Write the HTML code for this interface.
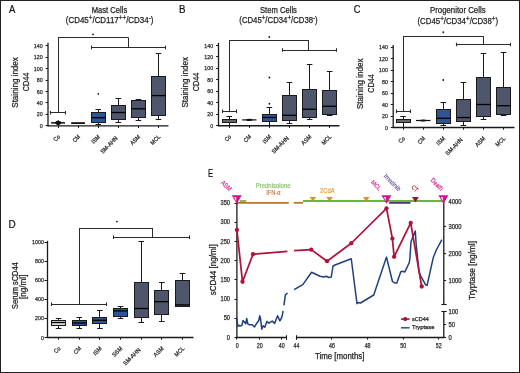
<!DOCTYPE html>
<html><head><meta charset="utf-8"><style>
html,body{margin:0;padding:0;background:#fff;}
svg{display:block;will-change:transform;}
text{font-family:"Liberation Sans",sans-serif;}
</style></head><body>
<svg width="520" height="373" viewBox="0 0 520 373">
<rect x="0" y="0" width="520" height="373" fill="#fff"/>
<text x="9" y="12.9" font-size="10.3" text-anchor="start" fill="#111" stroke="#111" textLength="6.33" lengthAdjust="spacingAndGlyphs" stroke-width="0.2">A</text>
<text x="91.7" y="13.2" font-size="9" text-anchor="start" fill="#222" stroke="#222" stroke-width="0.25" textLength="35.5" lengthAdjust="spacingAndGlyphs">Mast Cells</text>
<text x="65.8" y="22.8" font-size="9.0" fill="#222" stroke="#222" stroke-width="0.25" textLength="87.6" lengthAdjust="spacingAndGlyphs">(CD45<tspan font-size="7.2" dy="-3.1">+</tspan><tspan dy="3.1">/CD117</tspan><tspan font-size="7.2" dy="-3.1">++</tspan><tspan dy="3.1">/CD34</tspan><tspan font-size="7.2" dy="-3.1">-</tspan><tspan dy="3.1">)</tspan></text>
<line x1="48" y1="42.8" x2="48" y2="126.3" stroke="#1a1a1a" stroke-width="1.3"/>
<line x1="47.4" y1="125.8" x2="168.5" y2="125.8" stroke="#1a1a1a" stroke-width="1.3"/>
<line x1="45.6" y1="125.5" x2="48" y2="125.5" stroke="#1a1a1a" stroke-width="1"/>
<text x="42.7" y="127.85" font-size="5.8" text-anchor="end" fill="#2a2a2a" stroke="#2a2a2a" stroke-width="0.25" textLength="2.95" lengthAdjust="spacingAndGlyphs">0</text>
<line x1="45.6" y1="114.5" x2="48" y2="114.5" stroke="#1a1a1a" stroke-width="1"/>
<text x="42.7" y="116.44" font-size="5.8" text-anchor="end" fill="#2a2a2a" stroke="#2a2a2a" stroke-width="0.25" textLength="5.9" lengthAdjust="spacingAndGlyphs">20</text>
<line x1="45.6" y1="102.5" x2="48" y2="102.5" stroke="#1a1a1a" stroke-width="1"/>
<text x="42.7" y="105.02" font-size="5.8" text-anchor="end" fill="#2a2a2a" stroke="#2a2a2a" stroke-width="0.25" textLength="5.9" lengthAdjust="spacingAndGlyphs">40</text>
<line x1="45.6" y1="91.5" x2="48" y2="91.5" stroke="#1a1a1a" stroke-width="1"/>
<text x="42.7" y="93.61" font-size="5.8" text-anchor="end" fill="#2a2a2a" stroke="#2a2a2a" stroke-width="0.25" textLength="5.9" lengthAdjust="spacingAndGlyphs">60</text>
<line x1="45.6" y1="80.5" x2="48" y2="80.5" stroke="#1a1a1a" stroke-width="1"/>
<text x="42.7" y="82.19" font-size="5.8" text-anchor="end" fill="#2a2a2a" stroke="#2a2a2a" stroke-width="0.25" textLength="5.9" lengthAdjust="spacingAndGlyphs">80</text>
<line x1="45.6" y1="68.5" x2="48" y2="68.5" stroke="#1a1a1a" stroke-width="1"/>
<text x="42.7" y="70.78" font-size="5.8" text-anchor="end" fill="#2a2a2a" stroke="#2a2a2a" stroke-width="0.25" textLength="8.85" lengthAdjust="spacingAndGlyphs">100</text>
<line x1="45.6" y1="57.5" x2="48" y2="57.5" stroke="#1a1a1a" stroke-width="1"/>
<text x="42.7" y="59.36" font-size="5.8" text-anchor="end" fill="#2a2a2a" stroke="#2a2a2a" stroke-width="0.25" textLength="8.85" lengthAdjust="spacingAndGlyphs">120</text>
<line x1="45.6" y1="45.5" x2="48" y2="45.5" stroke="#1a1a1a" stroke-width="1"/>
<text x="42.7" y="47.95" font-size="5.8" text-anchor="end" fill="#2a2a2a" stroke="#2a2a2a" stroke-width="0.25" textLength="8.85" lengthAdjust="spacingAndGlyphs">140</text>
<line x1="58.5" y1="125.8" x2="58.5" y2="128" stroke="#1a1a1a" stroke-width="1"/>
<line x1="78.5" y1="125.8" x2="78.5" y2="128" stroke="#1a1a1a" stroke-width="1"/>
<line x1="98.5" y1="125.8" x2="98.5" y2="128" stroke="#1a1a1a" stroke-width="1"/>
<line x1="118.5" y1="125.8" x2="118.5" y2="128" stroke="#1a1a1a" stroke-width="1"/>
<line x1="138.5" y1="125.8" x2="138.5" y2="128" stroke="#1a1a1a" stroke-width="1"/>
<line x1="158.5" y1="125.8" x2="158.5" y2="128" stroke="#1a1a1a" stroke-width="1"/>
<line x1="98.5" y1="109.2" x2="98.5" y2="112.9" stroke="#1a1a1a" stroke-width="1"/>
<line x1="95.46" y1="109.5" x2="101.06" y2="109.5" stroke="#1a1a1a" stroke-width="1"/>
<line x1="98.5" y1="122.25" x2="98.5" y2="124.4" stroke="#1a1a1a" stroke-width="1"/>
<line x1="95.46" y1="124.5" x2="101.06" y2="124.5" stroke="#1a1a1a" stroke-width="1"/>
<rect x="91.5" y="112.5" width="14" height="10" fill="#2f5496" stroke="#1a1a1a" stroke-width="1"/>
<line x1="91.26" y1="117.7" x2="105.26" y2="117.7" stroke="#000" stroke-width="1.3"/>
<circle cx="98.26" cy="93.8" r="0.9" fill="#111"/>
<line x1="118.5" y1="98.6" x2="118.5" y2="105.4" stroke="#1a1a1a" stroke-width="1"/>
<line x1="115.54" y1="98.5" x2="121.14" y2="98.5" stroke="#1a1a1a" stroke-width="1"/>
<line x1="118.5" y1="119.5" x2="118.5" y2="122" stroke="#1a1a1a" stroke-width="1"/>
<line x1="115.54" y1="122.5" x2="121.14" y2="122.5" stroke="#1a1a1a" stroke-width="1"/>
<rect x="111.5" y="105.5" width="14" height="14" fill="#4f566b" stroke="#1a1a1a" stroke-width="1"/>
<line x1="111.34" y1="112.5" x2="125.34" y2="112.5" stroke="#000" stroke-width="1.3"/>
<line x1="138.5" y1="99.8" x2="138.5" y2="100.2" stroke="#1a1a1a" stroke-width="1"/>
<line x1="135.62" y1="99.5" x2="141.22" y2="99.5" stroke="#1a1a1a" stroke-width="1"/>
<line x1="138.5" y1="117.5" x2="138.5" y2="120.2" stroke="#1a1a1a" stroke-width="1"/>
<line x1="135.62" y1="120.5" x2="141.22" y2="120.5" stroke="#1a1a1a" stroke-width="1"/>
<rect x="131.5" y="100.5" width="14" height="17" fill="#4f566b" stroke="#1a1a1a" stroke-width="1"/>
<line x1="131.42" y1="108.8" x2="145.42" y2="108.8" stroke="#000" stroke-width="1.3"/>
<line x1="158.5" y1="53.7" x2="158.5" y2="76.2" stroke="#1a1a1a" stroke-width="1"/>
<line x1="155.7" y1="53.5" x2="161.3" y2="53.5" stroke="#1a1a1a" stroke-width="1"/>
<line x1="158.5" y1="115.7" x2="158.5" y2="119.8" stroke="#1a1a1a" stroke-width="1"/>
<line x1="155.7" y1="119.5" x2="161.3" y2="119.5" stroke="#1a1a1a" stroke-width="1"/>
<rect x="151.5" y="76.5" width="14" height="39" fill="#4f566b" stroke="#1a1a1a" stroke-width="1"/>
<line x1="151.5" y1="95.6" x2="165.5" y2="95.6" stroke="#000" stroke-width="1.3"/>
<text x="60.4" y="137.2" font-size="6" text-anchor="end" fill="#2a2a2a" stroke="#2a2a2a" stroke-width="0.25" textLength="6.52" lengthAdjust="spacingAndGlyphs" transform="rotate(-45 60.4 137.2)">Co</text>
<text x="80.48" y="137.2" font-size="6" text-anchor="end" fill="#2a2a2a" stroke="#2a2a2a" stroke-width="0.25" textLength="7.84" lengthAdjust="spacingAndGlyphs" transform="rotate(-45 80.48 137.2)">CM</text>
<text x="100.56" y="137.2" font-size="6" text-anchor="end" fill="#2a2a2a" stroke="#2a2a2a" stroke-width="0.25" textLength="9.6" lengthAdjust="spacingAndGlyphs" transform="rotate(-45 100.56 137.2)">ISM</text>
<text x="118.14" y="138.6" font-size="6" text-anchor="end" fill="#2a2a2a" stroke="#2a2a2a" stroke-width="0.25" textLength="21.77" lengthAdjust="spacingAndGlyphs" transform="rotate(-45 118.14 138.6)">SM-AHN</text>
<text x="140.72" y="137.2" font-size="6" text-anchor="end" fill="#2a2a2a" stroke="#2a2a2a" stroke-width="0.25" textLength="11.7" lengthAdjust="spacingAndGlyphs" transform="rotate(-45 140.72 137.2)">ASM</text>
<text x="160.8" y="137.2" font-size="6" text-anchor="end" fill="#2a2a2a" stroke="#2a2a2a" stroke-width="0.25" textLength="11.4" lengthAdjust="spacingAndGlyphs" transform="rotate(-45 160.8 137.2)">MCL</text>
<text x="18.1" y="82.45" font-size="8.9" text-anchor="middle" fill="#222" stroke="#222" stroke-width="0.25" textLength="50.6" lengthAdjust="spacingAndGlyphs" transform="rotate(-90 18.1 82.45)">Staining index</text>
<text x="29.4" y="82" font-size="8.9" text-anchor="middle" fill="#222" stroke="#222" stroke-width="0.25" textLength="18.6" lengthAdjust="spacingAndGlyphs" transform="rotate(-90 29.4 82)">CD44</text>
<rect x="51.1" y="122.1" width="13.9" height="1.5" fill="#111"/>
<ellipse cx="58.2" cy="122.8" rx="3.0" ry="2.1" fill="#111"/>
<line x1="58.2" y1="120.2" x2="58.2" y2="125.5" stroke="#111" stroke-width="1.2"/>
<rect x="71.2" y="122.2" width="13.7" height="1.8" fill="#111"/>
<line x1="58.1" y1="37.5" x2="128.4" y2="37.5" stroke="#2b2b2b" stroke-width="1"/>
<line x1="58.5" y1="37.5" x2="58.5" y2="112.75" stroke="#2b2b2b" stroke-width="1"/>
<line x1="128.5" y1="37.5" x2="128.5" y2="47.1" stroke="#2b2b2b" stroke-width="1"/>
<line x1="50.8" y1="112.5" x2="65.2" y2="112.5" stroke="#2b2b2b" stroke-width="1"/>
<line x1="50.5" y1="110.95" x2="50.5" y2="114.55" stroke="#2b2b2b" stroke-width="1.1"/>
<line x1="65.5" y1="110.95" x2="65.5" y2="114.55" stroke="#2b2b2b" stroke-width="1.1"/>
<line x1="91.5" y1="47.5" x2="165.8" y2="47.5" stroke="#2b2b2b" stroke-width="1"/>
<line x1="91.5" y1="45.7" x2="91.5" y2="49.3" stroke="#2b2b2b" stroke-width="1.1"/>
<line x1="165.5" y1="45.7" x2="165.5" y2="49.3" stroke="#2b2b2b" stroke-width="1.1"/>
<circle cx="93" cy="34.4" r="0.95" fill="#222"/>
<text x="179.1" y="12.8" font-size="10.3" text-anchor="start" fill="#111" stroke="#111" textLength="6.5" lengthAdjust="spacingAndGlyphs" stroke-width="0.2">B</text>
<text x="260" y="13.1" font-size="9" text-anchor="start" fill="#222" stroke="#222" stroke-width="0.25" textLength="36.9" lengthAdjust="spacingAndGlyphs">Stem Cells</text>
<text x="239.3" y="23.0" font-size="9.0" fill="#222" stroke="#222" stroke-width="0.25" textLength="78.4" lengthAdjust="spacingAndGlyphs">(CD45<tspan font-size="7.2" dy="-3.1">+</tspan><tspan dy="3.1">/CD34</tspan><tspan font-size="7.2" dy="-3.1">+</tspan><tspan dy="3.1">/CD38</tspan><tspan font-size="7.2" dy="-3.1">-</tspan><tspan dy="3.1">)</tspan></text>
<line x1="218.5" y1="42.8" x2="218.5" y2="126.25" stroke="#1a1a1a" stroke-width="1.3"/>
<line x1="217.9" y1="125.75" x2="339.5" y2="125.75" stroke="#1a1a1a" stroke-width="1.3"/>
<line x1="216.1" y1="125.5" x2="218.5" y2="125.5" stroke="#1a1a1a" stroke-width="1"/>
<text x="213.2" y="127.8" font-size="5.8" text-anchor="end" fill="#2a2a2a" stroke="#2a2a2a" stroke-width="0.25" textLength="2.95" lengthAdjust="spacingAndGlyphs">0</text>
<line x1="216.1" y1="114.5" x2="218.5" y2="114.5" stroke="#1a1a1a" stroke-width="1"/>
<text x="213.2" y="116.34" font-size="5.8" text-anchor="end" fill="#2a2a2a" stroke="#2a2a2a" stroke-width="0.25" textLength="5.9" lengthAdjust="spacingAndGlyphs">20</text>
<line x1="216.1" y1="102.5" x2="218.5" y2="102.5" stroke="#1a1a1a" stroke-width="1"/>
<text x="213.2" y="104.87" font-size="5.8" text-anchor="end" fill="#2a2a2a" stroke="#2a2a2a" stroke-width="0.25" textLength="5.9" lengthAdjust="spacingAndGlyphs">40</text>
<line x1="216.1" y1="91.5" x2="218.5" y2="91.5" stroke="#1a1a1a" stroke-width="1"/>
<text x="213.2" y="93.41" font-size="5.8" text-anchor="end" fill="#2a2a2a" stroke="#2a2a2a" stroke-width="0.25" textLength="5.9" lengthAdjust="spacingAndGlyphs">60</text>
<line x1="216.1" y1="79.5" x2="218.5" y2="79.5" stroke="#1a1a1a" stroke-width="1"/>
<text x="213.2" y="81.94" font-size="5.8" text-anchor="end" fill="#2a2a2a" stroke="#2a2a2a" stroke-width="0.25" textLength="5.9" lengthAdjust="spacingAndGlyphs">80</text>
<line x1="216.1" y1="68.5" x2="218.5" y2="68.5" stroke="#1a1a1a" stroke-width="1"/>
<text x="213.2" y="70.48" font-size="5.8" text-anchor="end" fill="#2a2a2a" stroke="#2a2a2a" stroke-width="0.25" textLength="8.85" lengthAdjust="spacingAndGlyphs">100</text>
<line x1="216.1" y1="56.5" x2="218.5" y2="56.5" stroke="#1a1a1a" stroke-width="1"/>
<text x="213.2" y="59.01" font-size="5.8" text-anchor="end" fill="#2a2a2a" stroke="#2a2a2a" stroke-width="0.25" textLength="8.85" lengthAdjust="spacingAndGlyphs">120</text>
<line x1="216.1" y1="45.5" x2="218.5" y2="45.5" stroke="#1a1a1a" stroke-width="1"/>
<text x="213.2" y="47.55" font-size="5.8" text-anchor="end" fill="#2a2a2a" stroke="#2a2a2a" stroke-width="0.25" textLength="8.85" lengthAdjust="spacingAndGlyphs">140</text>
<line x1="229.5" y1="125.75" x2="229.5" y2="127.95" stroke="#1a1a1a" stroke-width="1"/>
<line x1="249.5" y1="125.75" x2="249.5" y2="127.95" stroke="#1a1a1a" stroke-width="1"/>
<line x1="269.5" y1="125.75" x2="269.5" y2="127.95" stroke="#1a1a1a" stroke-width="1"/>
<line x1="289.5" y1="125.75" x2="289.5" y2="127.95" stroke="#1a1a1a" stroke-width="1"/>
<line x1="309.5" y1="125.75" x2="309.5" y2="127.95" stroke="#1a1a1a" stroke-width="1"/>
<line x1="329.5" y1="125.75" x2="329.5" y2="127.95" stroke="#1a1a1a" stroke-width="1"/>
<line x1="229.5" y1="116.6" x2="229.5" y2="119.1" stroke="#1a1a1a" stroke-width="1"/>
<line x1="226.4" y1="116.5" x2="232" y2="116.5" stroke="#1a1a1a" stroke-width="1"/>
<line x1="229.5" y1="122.5" x2="229.5" y2="125.3" stroke="#1a1a1a" stroke-width="1"/>
<line x1="226.4" y1="125.5" x2="232" y2="125.5" stroke="#1a1a1a" stroke-width="1"/>
<rect x="222.5" y="119.5" width="14" height="3" fill="#666666" stroke="#1a1a1a" stroke-width="1"/>
<line x1="269.5" y1="107" x2="269.5" y2="114.25" stroke="#1a1a1a" stroke-width="1"/>
<line x1="266.6" y1="107.5" x2="272.2" y2="107.5" stroke="#1a1a1a" stroke-width="1"/>
<line x1="269.5" y1="121.25" x2="269.5" y2="125" stroke="#1a1a1a" stroke-width="1"/>
<line x1="266.6" y1="125.5" x2="272.2" y2="125.5" stroke="#1a1a1a" stroke-width="1"/>
<rect x="262.5" y="114.5" width="14" height="7" fill="#2f5496" stroke="#1a1a1a" stroke-width="1"/>
<line x1="262.4" y1="117.5" x2="276.4" y2="117.5" stroke="#000" stroke-width="1.3"/>
<circle cx="269.4" cy="77.5" r="0.9" fill="#111"/>
<circle cx="269.4" cy="103.75" r="0.9" fill="#111"/>
<line x1="289.5" y1="82.5" x2="289.5" y2="95" stroke="#1a1a1a" stroke-width="1"/>
<line x1="286.7" y1="82.5" x2="292.3" y2="82.5" stroke="#1a1a1a" stroke-width="1"/>
<line x1="289.5" y1="120.75" x2="289.5" y2="123.75" stroke="#1a1a1a" stroke-width="1"/>
<line x1="286.7" y1="123.5" x2="292.3" y2="123.5" stroke="#1a1a1a" stroke-width="1"/>
<rect x="282.5" y="95.5" width="14" height="25" fill="#4f566b" stroke="#1a1a1a" stroke-width="1"/>
<line x1="282.5" y1="115.3" x2="296.5" y2="115.3" stroke="#000" stroke-width="1.3"/>
<line x1="309.5" y1="64.25" x2="309.5" y2="89.5" stroke="#1a1a1a" stroke-width="1"/>
<line x1="306.8" y1="64.5" x2="312.4" y2="64.5" stroke="#1a1a1a" stroke-width="1"/>
<line x1="309.5" y1="117.5" x2="309.5" y2="119" stroke="#1a1a1a" stroke-width="1"/>
<line x1="306.8" y1="119.5" x2="312.4" y2="119.5" stroke="#1a1a1a" stroke-width="1"/>
<rect x="302.5" y="89.5" width="14" height="28" fill="#4f566b" stroke="#1a1a1a" stroke-width="1"/>
<line x1="302.6" y1="109.25" x2="316.6" y2="109.25" stroke="#000" stroke-width="1.3"/>
<line x1="329.5" y1="71.25" x2="329.5" y2="90" stroke="#1a1a1a" stroke-width="1"/>
<line x1="326.9" y1="71.5" x2="332.5" y2="71.5" stroke="#1a1a1a" stroke-width="1"/>
<line x1="329.5" y1="114.5" x2="329.5" y2="115" stroke="#1a1a1a" stroke-width="1"/>
<line x1="326.9" y1="115.5" x2="332.5" y2="115.5" stroke="#1a1a1a" stroke-width="1"/>
<rect x="322.5" y="90.5" width="14" height="24" fill="#4f566b" stroke="#1a1a1a" stroke-width="1"/>
<line x1="322.7" y1="106.25" x2="336.7" y2="106.25" stroke="#000" stroke-width="1.3"/>
<text x="231.5" y="137.15" font-size="6" text-anchor="end" fill="#2a2a2a" stroke="#2a2a2a" stroke-width="0.25" textLength="6.52" lengthAdjust="spacingAndGlyphs" transform="rotate(-45 231.5 137.15)">Co</text>
<text x="251.6" y="137.15" font-size="6" text-anchor="end" fill="#2a2a2a" stroke="#2a2a2a" stroke-width="0.25" textLength="7.84" lengthAdjust="spacingAndGlyphs" transform="rotate(-45 251.6 137.15)">CM</text>
<text x="271.7" y="137.15" font-size="6" text-anchor="end" fill="#2a2a2a" stroke="#2a2a2a" stroke-width="0.25" textLength="9.6" lengthAdjust="spacingAndGlyphs" transform="rotate(-45 271.7 137.15)">ISM</text>
<text x="289.3" y="138.55" font-size="6" text-anchor="end" fill="#2a2a2a" stroke="#2a2a2a" stroke-width="0.25" textLength="21.77" lengthAdjust="spacingAndGlyphs" transform="rotate(-45 289.3 138.55)">SM-AHN</text>
<text x="311.9" y="137.15" font-size="6" text-anchor="end" fill="#2a2a2a" stroke="#2a2a2a" stroke-width="0.25" textLength="11.7" lengthAdjust="spacingAndGlyphs" transform="rotate(-45 311.9 137.15)">ASM</text>
<text x="332" y="137.15" font-size="6" text-anchor="end" fill="#2a2a2a" stroke="#2a2a2a" stroke-width="0.25" textLength="11.4" lengthAdjust="spacingAndGlyphs" transform="rotate(-45 332 137.15)">MCL</text>
<text x="188.1" y="82.3" font-size="8.9" text-anchor="middle" fill="#222" stroke="#222" stroke-width="0.25" textLength="50.6" lengthAdjust="spacingAndGlyphs" transform="rotate(-90 188.1 82.3)">Staining index</text>
<text x="199.4" y="82" font-size="8.9" text-anchor="middle" fill="#222" stroke="#222" stroke-width="0.25" textLength="18.6" lengthAdjust="spacingAndGlyphs" transform="rotate(-90 199.4 82)">CD44</text>
<rect x="242.2" y="119.3" width="14.3" height="1.2" fill="#111"/>
<ellipse cx="249.4" cy="119.9" rx="3.2" ry="1.1" fill="#111"/>
<line x1="229.2" y1="40.5" x2="308.8" y2="40.5" stroke="#2b2b2b" stroke-width="1"/>
<line x1="229.5" y1="40.1" x2="229.5" y2="111.25" stroke="#2b2b2b" stroke-width="1"/>
<line x1="308.5" y1="40.1" x2="308.5" y2="50" stroke="#2b2b2b" stroke-width="1"/>
<line x1="222.2" y1="111.5" x2="236.3" y2="111.5" stroke="#2b2b2b" stroke-width="1"/>
<line x1="222.5" y1="109.45" x2="222.5" y2="113.05" stroke="#2b2b2b" stroke-width="1.1"/>
<line x1="236.5" y1="109.45" x2="236.5" y2="113.05" stroke="#2b2b2b" stroke-width="1.1"/>
<line x1="282" y1="50.5" x2="336.3" y2="50.5" stroke="#2b2b2b" stroke-width="1"/>
<line x1="282.5" y1="48.2" x2="282.5" y2="51.8" stroke="#2b2b2b" stroke-width="1.1"/>
<line x1="336.5" y1="48.2" x2="336.5" y2="51.8" stroke="#2b2b2b" stroke-width="1.1"/>
<circle cx="269.3" cy="37.0" r="0.95" fill="#222"/>
<text x="353.7" y="12.8" font-size="10.3" text-anchor="start" fill="#111" stroke="#111" textLength="6.71" lengthAdjust="spacingAndGlyphs" stroke-width="0.2">C</text>
<text x="430" y="13.3" font-size="9" text-anchor="start" fill="#222" stroke="#222" stroke-width="0.25" textLength="55.6" lengthAdjust="spacingAndGlyphs">Progenitor Cells</text>
<text x="417.5" y="23.6" font-size="9.0" fill="#222" stroke="#222" stroke-width="0.25" textLength="80.6" lengthAdjust="spacingAndGlyphs">(CD45<tspan font-size="7.2" dy="-3.1">+</tspan><tspan dy="3.1">/CD34</tspan><tspan font-size="7.2" dy="-3.1">+</tspan><tspan dy="3.1">/CD38</tspan><tspan font-size="7.2" dy="-3.1">+</tspan><tspan dy="3.1">)</tspan></text>
<line x1="393.2" y1="45" x2="393.2" y2="128" stroke="#1a1a1a" stroke-width="1.3"/>
<line x1="392.6" y1="127.5" x2="514.5" y2="127.5" stroke="#1a1a1a" stroke-width="1.3"/>
<line x1="390.8" y1="127.5" x2="393.2" y2="127.5" stroke="#1a1a1a" stroke-width="1"/>
<text x="387.9" y="129.55" font-size="5.8" text-anchor="end" fill="#2a2a2a" stroke="#2a2a2a" stroke-width="0.25" textLength="2.95" lengthAdjust="spacingAndGlyphs">0</text>
<line x1="390.8" y1="116.5" x2="393.2" y2="116.5" stroke="#1a1a1a" stroke-width="1"/>
<text x="387.9" y="118.11" font-size="5.8" text-anchor="end" fill="#2a2a2a" stroke="#2a2a2a" stroke-width="0.25" textLength="5.9" lengthAdjust="spacingAndGlyphs">20</text>
<line x1="390.8" y1="104.5" x2="393.2" y2="104.5" stroke="#1a1a1a" stroke-width="1"/>
<text x="387.9" y="106.66" font-size="5.8" text-anchor="end" fill="#2a2a2a" stroke="#2a2a2a" stroke-width="0.25" textLength="5.9" lengthAdjust="spacingAndGlyphs">40</text>
<line x1="390.8" y1="93.5" x2="393.2" y2="93.5" stroke="#1a1a1a" stroke-width="1"/>
<text x="387.9" y="95.22" font-size="5.8" text-anchor="end" fill="#2a2a2a" stroke="#2a2a2a" stroke-width="0.25" textLength="5.9" lengthAdjust="spacingAndGlyphs">60</text>
<line x1="390.8" y1="81.5" x2="393.2" y2="81.5" stroke="#1a1a1a" stroke-width="1"/>
<text x="387.9" y="83.78" font-size="5.8" text-anchor="end" fill="#2a2a2a" stroke="#2a2a2a" stroke-width="0.25" textLength="5.9" lengthAdjust="spacingAndGlyphs">80</text>
<line x1="390.8" y1="70.5" x2="393.2" y2="70.5" stroke="#1a1a1a" stroke-width="1"/>
<text x="387.9" y="72.34" font-size="5.8" text-anchor="end" fill="#2a2a2a" stroke="#2a2a2a" stroke-width="0.25" textLength="8.85" lengthAdjust="spacingAndGlyphs">100</text>
<line x1="390.8" y1="58.5" x2="393.2" y2="58.5" stroke="#1a1a1a" stroke-width="1"/>
<text x="387.9" y="60.89" font-size="5.8" text-anchor="end" fill="#2a2a2a" stroke="#2a2a2a" stroke-width="0.25" textLength="8.85" lengthAdjust="spacingAndGlyphs">120</text>
<line x1="390.8" y1="47.5" x2="393.2" y2="47.5" stroke="#1a1a1a" stroke-width="1"/>
<text x="387.9" y="49.45" font-size="5.8" text-anchor="end" fill="#2a2a2a" stroke="#2a2a2a" stroke-width="0.25" textLength="8.85" lengthAdjust="spacingAndGlyphs">140</text>
<line x1="403.5" y1="127.5" x2="403.5" y2="129.7" stroke="#1a1a1a" stroke-width="1"/>
<line x1="423.5" y1="127.5" x2="423.5" y2="129.7" stroke="#1a1a1a" stroke-width="1"/>
<line x1="443.5" y1="127.5" x2="443.5" y2="129.7" stroke="#1a1a1a" stroke-width="1"/>
<line x1="463.5" y1="127.5" x2="463.5" y2="129.7" stroke="#1a1a1a" stroke-width="1"/>
<line x1="483.5" y1="127.5" x2="483.5" y2="129.7" stroke="#1a1a1a" stroke-width="1"/>
<line x1="503.5" y1="127.5" x2="503.5" y2="129.7" stroke="#1a1a1a" stroke-width="1"/>
<line x1="403.5" y1="116.3" x2="403.5" y2="119.1" stroke="#1a1a1a" stroke-width="1"/>
<line x1="400.3" y1="116.5" x2="405.9" y2="116.5" stroke="#1a1a1a" stroke-width="1"/>
<line x1="403.5" y1="122.8" x2="403.5" y2="127" stroke="#1a1a1a" stroke-width="1"/>
<line x1="400.3" y1="127.5" x2="405.9" y2="127.5" stroke="#1a1a1a" stroke-width="1"/>
<rect x="396.5" y="119.5" width="14" height="3" fill="#666666" stroke="#1a1a1a" stroke-width="1"/>
<line x1="443.5" y1="102" x2="443.5" y2="109.5" stroke="#1a1a1a" stroke-width="1"/>
<line x1="440.5" y1="102.5" x2="446.1" y2="102.5" stroke="#1a1a1a" stroke-width="1"/>
<line x1="443.5" y1="123" x2="443.5" y2="125.5" stroke="#1a1a1a" stroke-width="1"/>
<line x1="440.5" y1="125.5" x2="446.1" y2="125.5" stroke="#1a1a1a" stroke-width="1"/>
<rect x="436.5" y="109.5" width="14" height="14" fill="#2f5496" stroke="#1a1a1a" stroke-width="1"/>
<line x1="436.3" y1="118.25" x2="450.3" y2="118.25" stroke="#000" stroke-width="1.3"/>
<circle cx="443.3" cy="80" r="0.9" fill="#111"/>
<line x1="463.5" y1="82" x2="463.5" y2="99.5" stroke="#1a1a1a" stroke-width="1"/>
<line x1="460.6" y1="82.5" x2="466.2" y2="82.5" stroke="#1a1a1a" stroke-width="1"/>
<line x1="463.5" y1="121.75" x2="463.5" y2="125" stroke="#1a1a1a" stroke-width="1"/>
<line x1="460.6" y1="125.5" x2="466.2" y2="125.5" stroke="#1a1a1a" stroke-width="1"/>
<rect x="456.5" y="99.5" width="14" height="22" fill="#4f566b" stroke="#1a1a1a" stroke-width="1"/>
<line x1="456.4" y1="117.5" x2="470.4" y2="117.5" stroke="#000" stroke-width="1.3"/>
<line x1="483.5" y1="53" x2="483.5" y2="77.5" stroke="#1a1a1a" stroke-width="1"/>
<line x1="480.7" y1="53.5" x2="486.3" y2="53.5" stroke="#1a1a1a" stroke-width="1"/>
<line x1="483.5" y1="116.5" x2="483.5" y2="119.25" stroke="#1a1a1a" stroke-width="1"/>
<line x1="480.7" y1="119.5" x2="486.3" y2="119.5" stroke="#1a1a1a" stroke-width="1"/>
<rect x="476.5" y="77.5" width="14" height="39" fill="#4f566b" stroke="#1a1a1a" stroke-width="1"/>
<line x1="476.5" y1="104.5" x2="490.5" y2="104.5" stroke="#000" stroke-width="1.3"/>
<line x1="503.5" y1="52" x2="503.5" y2="87.5" stroke="#1a1a1a" stroke-width="1"/>
<line x1="500.8" y1="52.5" x2="506.4" y2="52.5" stroke="#1a1a1a" stroke-width="1"/>
<line x1="503.5" y1="114.5" x2="503.5" y2="115" stroke="#1a1a1a" stroke-width="1"/>
<line x1="500.8" y1="115.5" x2="506.4" y2="115.5" stroke="#1a1a1a" stroke-width="1"/>
<rect x="496.5" y="87.5" width="14" height="27" fill="#4f566b" stroke="#1a1a1a" stroke-width="1"/>
<line x1="496.6" y1="105.75" x2="510.6" y2="105.75" stroke="#000" stroke-width="1.3"/>
<text x="405.4" y="138.9" font-size="6" text-anchor="end" fill="#2a2a2a" stroke="#2a2a2a" stroke-width="0.25" textLength="6.52" lengthAdjust="spacingAndGlyphs" transform="rotate(-45 405.4 138.9)">Co</text>
<text x="425.5" y="138.9" font-size="6" text-anchor="end" fill="#2a2a2a" stroke="#2a2a2a" stroke-width="0.25" textLength="7.84" lengthAdjust="spacingAndGlyphs" transform="rotate(-45 425.5 138.9)">CM</text>
<text x="445.6" y="138.9" font-size="6" text-anchor="end" fill="#2a2a2a" stroke="#2a2a2a" stroke-width="0.25" textLength="9.6" lengthAdjust="spacingAndGlyphs" transform="rotate(-45 445.6 138.9)">ISM</text>
<text x="463.2" y="140.3" font-size="6" text-anchor="end" fill="#2a2a2a" stroke="#2a2a2a" stroke-width="0.25" textLength="21.77" lengthAdjust="spacingAndGlyphs" transform="rotate(-45 463.2 140.3)">SM-AHN</text>
<text x="485.8" y="138.9" font-size="6" text-anchor="end" fill="#2a2a2a" stroke="#2a2a2a" stroke-width="0.25" textLength="11.7" lengthAdjust="spacingAndGlyphs" transform="rotate(-45 485.8 138.9)">ASM</text>
<text x="505.9" y="138.9" font-size="6" text-anchor="end" fill="#2a2a2a" stroke="#2a2a2a" stroke-width="0.25" textLength="11.4" lengthAdjust="spacingAndGlyphs" transform="rotate(-45 505.9 138.9)">MCL</text>
<text x="362.6" y="83.7" font-size="8.9" text-anchor="middle" fill="#222" stroke="#222" stroke-width="0.25" textLength="50.6" lengthAdjust="spacingAndGlyphs" transform="rotate(-90 362.6 83.7)">Staining index</text>
<text x="373.9" y="83.5" font-size="8.9" text-anchor="middle" fill="#222" stroke="#222" stroke-width="0.25" textLength="18.6" lengthAdjust="spacingAndGlyphs" transform="rotate(-90 373.9 83.5)">CD44</text>
<rect x="416.0" y="119.9" width="14.5" height="1.2" fill="#111"/>
<ellipse cx="423.2" cy="120.5" rx="3.2" ry="1.1" fill="#111"/>
<line x1="403.1" y1="36.5" x2="483.7" y2="36.5" stroke="#2b2b2b" stroke-width="1"/>
<line x1="403.5" y1="36.25" x2="403.5" y2="111.25" stroke="#2b2b2b" stroke-width="1"/>
<line x1="483.5" y1="36.25" x2="483.5" y2="44.5" stroke="#2b2b2b" stroke-width="1"/>
<line x1="396.3" y1="111.5" x2="410" y2="111.5" stroke="#2b2b2b" stroke-width="1"/>
<line x1="396.5" y1="109.45" x2="396.5" y2="113.05" stroke="#2b2b2b" stroke-width="1.1"/>
<line x1="410.5" y1="109.45" x2="410.5" y2="113.05" stroke="#2b2b2b" stroke-width="1.1"/>
<line x1="456.8" y1="44.5" x2="510.8" y2="44.5" stroke="#2b2b2b" stroke-width="1"/>
<line x1="456.5" y1="42.7" x2="456.5" y2="46.3" stroke="#2b2b2b" stroke-width="1.1"/>
<line x1="510.5" y1="42.7" x2="510.5" y2="46.3" stroke="#2b2b2b" stroke-width="1.1"/>
<circle cx="443.3" cy="32.2" r="0.95" fill="#222"/>
<text x="8.6" y="227.6" font-size="10.3" text-anchor="start" fill="#111" stroke="#111" textLength="7.2" lengthAdjust="spacingAndGlyphs" stroke-width="0.2">D</text>
<line x1="47.5" y1="240.8" x2="47.5" y2="338" stroke="#1a1a1a" stroke-width="1.3"/>
<line x1="46.9" y1="337.5" x2="193.5" y2="337.5" stroke="#1a1a1a" stroke-width="1.3"/>
<line x1="44.5" y1="337.5" x2="47.5" y2="337.5" stroke="#1a1a1a" stroke-width="1"/>
<text x="43.9" y="339.55" font-size="5.8" text-anchor="end" fill="#2a2a2a" stroke="#2a2a2a" stroke-width="0.25" textLength="2.95" lengthAdjust="spacingAndGlyphs">0</text>
<line x1="44.5" y1="318.5" x2="47.5" y2="318.5" stroke="#1a1a1a" stroke-width="1"/>
<text x="43.9" y="320.45" font-size="5.8" text-anchor="end" fill="#2a2a2a" stroke="#2a2a2a" stroke-width="0.25" textLength="8.85" lengthAdjust="spacingAndGlyphs">200</text>
<line x1="44.5" y1="299.5" x2="47.5" y2="299.5" stroke="#1a1a1a" stroke-width="1"/>
<text x="43.9" y="301.35" font-size="5.8" text-anchor="end" fill="#2a2a2a" stroke="#2a2a2a" stroke-width="0.25" textLength="8.85" lengthAdjust="spacingAndGlyphs">400</text>
<line x1="44.5" y1="280.5" x2="47.5" y2="280.5" stroke="#1a1a1a" stroke-width="1"/>
<text x="43.9" y="282.25" font-size="5.8" text-anchor="end" fill="#2a2a2a" stroke="#2a2a2a" stroke-width="0.25" textLength="8.85" lengthAdjust="spacingAndGlyphs">600</text>
<line x1="44.5" y1="261.5" x2="47.5" y2="261.5" stroke="#1a1a1a" stroke-width="1"/>
<text x="43.9" y="263.15" font-size="5.8" text-anchor="end" fill="#2a2a2a" stroke="#2a2a2a" stroke-width="0.25" textLength="8.85" lengthAdjust="spacingAndGlyphs">800</text>
<line x1="44.5" y1="242.5" x2="47.5" y2="242.5" stroke="#1a1a1a" stroke-width="1"/>
<text x="43.9" y="244.05" font-size="5.8" text-anchor="end" fill="#2a2a2a" stroke="#2a2a2a" stroke-width="0.25" textLength="11.8" lengthAdjust="spacingAndGlyphs">1000</text>
<line x1="58.5" y1="337.5" x2="58.5" y2="339.7" stroke="#1a1a1a" stroke-width="1"/>
<line x1="79.5" y1="337.5" x2="79.5" y2="339.7" stroke="#1a1a1a" stroke-width="1"/>
<line x1="99.5" y1="337.5" x2="99.5" y2="339.7" stroke="#1a1a1a" stroke-width="1"/>
<line x1="120.5" y1="337.5" x2="120.5" y2="339.7" stroke="#1a1a1a" stroke-width="1"/>
<line x1="141.5" y1="337.5" x2="141.5" y2="339.7" stroke="#1a1a1a" stroke-width="1"/>
<line x1="161.5" y1="337.5" x2="161.5" y2="339.7" stroke="#1a1a1a" stroke-width="1"/>
<line x1="182.5" y1="337.5" x2="182.5" y2="339.7" stroke="#1a1a1a" stroke-width="1"/>
<line x1="58.5" y1="318.75" x2="58.5" y2="320" stroke="#1a1a1a" stroke-width="1"/>
<line x1="55.8" y1="318.5" x2="61.4" y2="318.5" stroke="#1a1a1a" stroke-width="1"/>
<line x1="58.5" y1="325.5" x2="58.5" y2="328.25" stroke="#1a1a1a" stroke-width="1"/>
<line x1="55.8" y1="328.5" x2="61.4" y2="328.5" stroke="#1a1a1a" stroke-width="1"/>
<rect x="51.5" y="320.5" width="14" height="5" fill="#d9d9d9" stroke="#1a1a1a" stroke-width="1"/>
<line x1="51.6" y1="322.5" x2="65.6" y2="322.5" stroke="#000" stroke-width="1.3"/>
<line x1="79.5" y1="317.5" x2="79.5" y2="320" stroke="#1a1a1a" stroke-width="1"/>
<line x1="76.45" y1="317.5" x2="82.05" y2="317.5" stroke="#1a1a1a" stroke-width="1"/>
<line x1="79.5" y1="325.5" x2="79.5" y2="328" stroke="#1a1a1a" stroke-width="1"/>
<line x1="76.45" y1="328.5" x2="82.05" y2="328.5" stroke="#1a1a1a" stroke-width="1"/>
<rect x="72.5" y="320.5" width="14" height="5" fill="#2f5496" stroke="#1a1a1a" stroke-width="1"/>
<line x1="72.25" y1="323" x2="86.25" y2="323" stroke="#000" stroke-width="1.3"/>
<line x1="99.5" y1="310.7" x2="99.5" y2="317.4" stroke="#1a1a1a" stroke-width="1"/>
<line x1="97.1" y1="310.5" x2="102.7" y2="310.5" stroke="#1a1a1a" stroke-width="1"/>
<line x1="99.5" y1="323.5" x2="99.5" y2="328.3" stroke="#1a1a1a" stroke-width="1"/>
<line x1="97.1" y1="328.5" x2="102.7" y2="328.5" stroke="#1a1a1a" stroke-width="1"/>
<rect x="92.5" y="317.5" width="14" height="6" fill="#2f5496" stroke="#1a1a1a" stroke-width="1"/>
<line x1="92.9" y1="320.3" x2="106.9" y2="320.3" stroke="#000" stroke-width="1.3"/>
<line x1="120.5" y1="306.6" x2="120.5" y2="308.5" stroke="#1a1a1a" stroke-width="1"/>
<line x1="117.75" y1="306.5" x2="123.35" y2="306.5" stroke="#1a1a1a" stroke-width="1"/>
<line x1="120.5" y1="316.2" x2="120.5" y2="318.1" stroke="#1a1a1a" stroke-width="1"/>
<line x1="117.75" y1="318.5" x2="123.35" y2="318.5" stroke="#1a1a1a" stroke-width="1"/>
<rect x="113.5" y="308.5" width="14" height="8" fill="#2f5496" stroke="#1a1a1a" stroke-width="1"/>
<line x1="113.55" y1="310.9" x2="127.55" y2="310.9" stroke="#000" stroke-width="1.3"/>
<line x1="141.5" y1="241.4" x2="141.5" y2="282.4" stroke="#1a1a1a" stroke-width="1"/>
<line x1="138.4" y1="241.5" x2="144" y2="241.5" stroke="#1a1a1a" stroke-width="1"/>
<line x1="141.5" y1="317.4" x2="141.5" y2="322.25" stroke="#1a1a1a" stroke-width="1"/>
<line x1="138.4" y1="322.5" x2="144" y2="322.5" stroke="#1a1a1a" stroke-width="1"/>
<rect x="134.5" y="282.5" width="14" height="35" fill="#4f566b" stroke="#1a1a1a" stroke-width="1"/>
<line x1="134.2" y1="308.5" x2="148.2" y2="308.5" stroke="#000" stroke-width="1.3"/>
<line x1="161.5" y1="282.9" x2="161.5" y2="290.4" stroke="#1a1a1a" stroke-width="1"/>
<line x1="159.05" y1="282.5" x2="164.65" y2="282.5" stroke="#1a1a1a" stroke-width="1"/>
<line x1="161.5" y1="314.3" x2="161.5" y2="321.5" stroke="#1a1a1a" stroke-width="1"/>
<line x1="159.05" y1="321.5" x2="164.65" y2="321.5" stroke="#1a1a1a" stroke-width="1"/>
<rect x="154.5" y="290.5" width="14" height="24" fill="#4f566b" stroke="#1a1a1a" stroke-width="1"/>
<line x1="154.85" y1="301.7" x2="168.85" y2="301.7" stroke="#000" stroke-width="1.3"/>
<line x1="182.5" y1="273.25" x2="182.5" y2="280.9" stroke="#1a1a1a" stroke-width="1"/>
<line x1="179.7" y1="273.5" x2="185.3" y2="273.5" stroke="#1a1a1a" stroke-width="1"/>
<line x1="182.5" y1="306.5" x2="182.5" y2="306.5" stroke="#1a1a1a" stroke-width="1"/>
<line x1="179.7" y1="306.5" x2="185.3" y2="306.5" stroke="#1a1a1a" stroke-width="1"/>
<rect x="175.5" y="280.5" width="14" height="26" fill="#4f566b" stroke="#1a1a1a" stroke-width="1"/>
<line x1="175.5" y1="304.9" x2="189.5" y2="304.9" stroke="#000" stroke-width="1.3"/>
<text x="60.9" y="348.9" font-size="6" text-anchor="end" fill="#2a2a2a" stroke="#2a2a2a" stroke-width="0.25" textLength="6.52" lengthAdjust="spacingAndGlyphs" transform="rotate(-45 60.9 348.9)">Co</text>
<text x="81.55" y="348.9" font-size="6" text-anchor="end" fill="#2a2a2a" stroke="#2a2a2a" stroke-width="0.25" textLength="7.84" lengthAdjust="spacingAndGlyphs" transform="rotate(-45 81.55 348.9)">CM</text>
<text x="102.2" y="348.9" font-size="6" text-anchor="end" fill="#2a2a2a" stroke="#2a2a2a" stroke-width="0.25" textLength="9.6" lengthAdjust="spacingAndGlyphs" transform="rotate(-45 102.2 348.9)">ISM</text>
<text x="122.85" y="348.9" font-size="6" text-anchor="end" fill="#2a2a2a" stroke="#2a2a2a" stroke-width="0.25" textLength="11.7" lengthAdjust="spacingAndGlyphs" transform="rotate(-45 122.85 348.9)">SSM</text>
<text x="141" y="350.3" font-size="6" text-anchor="end" fill="#2a2a2a" stroke="#2a2a2a" stroke-width="0.25" textLength="21.77" lengthAdjust="spacingAndGlyphs" transform="rotate(-45 141 350.3)">SM-AHN</text>
<text x="164.15" y="348.9" font-size="6" text-anchor="end" fill="#2a2a2a" stroke="#2a2a2a" stroke-width="0.25" textLength="11.7" lengthAdjust="spacingAndGlyphs" transform="rotate(-45 164.15 348.9)">ASM</text>
<text x="184.8" y="348.9" font-size="6" text-anchor="end" fill="#2a2a2a" stroke="#2a2a2a" stroke-width="0.25" textLength="11.4" lengthAdjust="spacingAndGlyphs" transform="rotate(-45 184.8 348.9)">MCL</text>
<text x="18.3" y="285.6" font-size="8.3" text-anchor="middle" fill="#222" stroke="#222" stroke-width="0.25" textLength="46.6" lengthAdjust="spacingAndGlyphs" transform="rotate(-90 18.3 285.6)">Serum sCD44</text>
<text x="26.3" y="286.8" font-size="8.3" text-anchor="middle" fill="#222" stroke="#222" stroke-width="0.25" textLength="24.4" lengthAdjust="spacingAndGlyphs" transform="rotate(-90 26.3 286.8)">[ng/ml]</text>
<line x1="79.5" y1="228.5" x2="152.9" y2="228.5" stroke="#2b2b2b" stroke-width="1"/>
<line x1="79.5" y1="228.1" x2="79.5" y2="304.2" stroke="#2b2b2b" stroke-width="1"/>
<line x1="152.5" y1="228.1" x2="152.5" y2="237.2" stroke="#2b2b2b" stroke-width="1"/>
<line x1="51.3" y1="304.5" x2="106.6" y2="304.5" stroke="#2b2b2b" stroke-width="1"/>
<line x1="51.5" y1="302.4" x2="51.5" y2="306" stroke="#2b2b2b" stroke-width="1.1"/>
<line x1="106.5" y1="302.4" x2="106.5" y2="306" stroke="#2b2b2b" stroke-width="1.1"/>
<line x1="113.8" y1="237.5" x2="189.8" y2="237.5" stroke="#2b2b2b" stroke-width="1"/>
<line x1="113.5" y1="235.4" x2="113.5" y2="239" stroke="#2b2b2b" stroke-width="1.1"/>
<line x1="189.5" y1="235.4" x2="189.5" y2="239" stroke="#2b2b2b" stroke-width="1.1"/>
<circle cx="116.9" cy="221.6" r="0.95" fill="#222"/>
<text x="208" y="176.9" font-size="10.3" text-anchor="start" fill="#111" stroke="#111" textLength="5.22" lengthAdjust="spacingAndGlyphs" stroke-width="0.2">E</text>
<line x1="236.9" y1="202.8" x2="288.8" y2="202.8" stroke="#b8742c" stroke-width="1.7"/>
<line x1="293.8" y1="202.8" x2="303" y2="202.8" stroke="#b8742c" stroke-width="1.7"/>
<line x1="240" y1="201" x2="246.2" y2="201" stroke="#6cb33f" stroke-width="1.7"/>
<line x1="303" y1="201" x2="443.8" y2="201" stroke="#6cb33f" stroke-width="1.8"/>
<line x1="389.2" y1="202.9" x2="410.5" y2="202.9" stroke="#4b2a78" stroke-width="1.7"/>
<line x1="236.9" y1="199.5" x2="236.9" y2="338" stroke="#1a1a1a" stroke-width="1.3"/>
<line x1="234.5" y1="337.5" x2="236.9" y2="337.5" stroke="#1a1a1a" stroke-width="1"/>
<text x="230" y="339.7" font-size="6.3" text-anchor="end" fill="#2a2a2a" stroke="#2a2a2a" stroke-width="0.25" textLength="3.15" lengthAdjust="spacingAndGlyphs">0</text>
<line x1="234.5" y1="318.5" x2="236.9" y2="318.5" stroke="#1a1a1a" stroke-width="1"/>
<text x="230" y="320.49" font-size="6.3" text-anchor="end" fill="#2a2a2a" stroke="#2a2a2a" stroke-width="0.25" textLength="6.3" lengthAdjust="spacingAndGlyphs">50</text>
<line x1="234.5" y1="299.5" x2="236.9" y2="299.5" stroke="#1a1a1a" stroke-width="1"/>
<text x="230" y="301.27" font-size="6.3" text-anchor="end" fill="#2a2a2a" stroke="#2a2a2a" stroke-width="0.25" textLength="9.45" lengthAdjust="spacingAndGlyphs">100</text>
<line x1="234.5" y1="279.5" x2="236.9" y2="279.5" stroke="#1a1a1a" stroke-width="1"/>
<text x="230" y="282.06" font-size="6.3" text-anchor="end" fill="#2a2a2a" stroke="#2a2a2a" stroke-width="0.25" textLength="9.45" lengthAdjust="spacingAndGlyphs">150</text>
<line x1="234.5" y1="260.5" x2="236.9" y2="260.5" stroke="#1a1a1a" stroke-width="1"/>
<text x="230" y="262.84" font-size="6.3" text-anchor="end" fill="#2a2a2a" stroke="#2a2a2a" stroke-width="0.25" textLength="9.45" lengthAdjust="spacingAndGlyphs">200</text>
<line x1="234.5" y1="241.5" x2="236.9" y2="241.5" stroke="#1a1a1a" stroke-width="1"/>
<text x="230" y="243.63" font-size="6.3" text-anchor="end" fill="#2a2a2a" stroke="#2a2a2a" stroke-width="0.25" textLength="9.45" lengthAdjust="spacingAndGlyphs">250</text>
<line x1="234.5" y1="222.5" x2="236.9" y2="222.5" stroke="#1a1a1a" stroke-width="1"/>
<text x="230" y="224.41" font-size="6.3" text-anchor="end" fill="#2a2a2a" stroke="#2a2a2a" stroke-width="0.25" textLength="9.45" lengthAdjust="spacingAndGlyphs">300</text>
<line x1="234.5" y1="203.5" x2="236.9" y2="203.5" stroke="#1a1a1a" stroke-width="1"/>
<text x="230" y="205.2" font-size="6.3" text-anchor="end" fill="#2a2a2a" stroke="#2a2a2a" stroke-width="0.25" textLength="9.45" lengthAdjust="spacingAndGlyphs">350</text>
<line x1="236.3" y1="337.5" x2="286.3" y2="337.5" stroke="#1a1a1a" stroke-width="1.3"/>
<line x1="286.5" y1="335.2" x2="286.5" y2="339.8" stroke="#1a1a1a" stroke-width="1.1"/>
<line x1="296" y1="337.5" x2="444.4" y2="337.5" stroke="#1a1a1a" stroke-width="1.3"/>
<line x1="296.5" y1="335.2" x2="296.5" y2="339.8" stroke="#1a1a1a" stroke-width="1.1"/>
<line x1="236.5" y1="337.5" x2="236.5" y2="339.6" stroke="#1a1a1a" stroke-width="1"/>
<text x="237.1" y="347.7" font-size="6.3" text-anchor="middle" fill="#2a2a2a" stroke="#2a2a2a" stroke-width="0.25" textLength="2.95" lengthAdjust="spacingAndGlyphs">0</text>
<line x1="259.5" y1="337.5" x2="259.5" y2="339.6" stroke="#1a1a1a" stroke-width="1"/>
<text x="259.7" y="347.7" font-size="6.3" text-anchor="middle" fill="#2a2a2a" stroke="#2a2a2a" stroke-width="0.25" textLength="5.9" lengthAdjust="spacingAndGlyphs">20</text>
<line x1="281.5" y1="337.5" x2="281.5" y2="339.6" stroke="#1a1a1a" stroke-width="1"/>
<text x="281.8" y="347.7" font-size="6.3" text-anchor="middle" fill="#2a2a2a" stroke="#2a2a2a" stroke-width="0.25" textLength="5.9" lengthAdjust="spacingAndGlyphs">40</text>
<line x1="296.5" y1="337.5" x2="296.5" y2="339.6" stroke="#1a1a1a" stroke-width="1"/>
<text x="296.4" y="347.7" font-size="6.3" text-anchor="middle" fill="#2a2a2a" stroke="#2a2a2a" stroke-width="0.25" textLength="5.9" lengthAdjust="spacingAndGlyphs">44</text>
<line x1="331.5" y1="337.5" x2="331.5" y2="339.6" stroke="#1a1a1a" stroke-width="1"/>
<text x="332" y="347.7" font-size="6.3" text-anchor="middle" fill="#2a2a2a" stroke="#2a2a2a" stroke-width="0.25" textLength="5.9" lengthAdjust="spacingAndGlyphs">46</text>
<line x1="367.5" y1="337.5" x2="367.5" y2="339.6" stroke="#1a1a1a" stroke-width="1"/>
<text x="367.6" y="347.7" font-size="6.3" text-anchor="middle" fill="#2a2a2a" stroke="#2a2a2a" stroke-width="0.25" textLength="5.9" lengthAdjust="spacingAndGlyphs">48</text>
<line x1="403.5" y1="337.5" x2="403.5" y2="339.6" stroke="#1a1a1a" stroke-width="1"/>
<text x="403.2" y="347.7" font-size="6.3" text-anchor="middle" fill="#2a2a2a" stroke="#2a2a2a" stroke-width="0.25" textLength="5.9" lengthAdjust="spacingAndGlyphs">50</text>
<line x1="438.5" y1="337.5" x2="438.5" y2="339.6" stroke="#1a1a1a" stroke-width="1"/>
<text x="438.8" y="347.7" font-size="6.3" text-anchor="middle" fill="#2a2a2a" stroke="#2a2a2a" stroke-width="0.25" textLength="5.9" lengthAdjust="spacingAndGlyphs">52</text>
<text x="315" y="358.8" font-size="8.4" text-anchor="start" fill="#222" stroke="#222" stroke-width="0.25" textLength="49.4" lengthAdjust="spacingAndGlyphs">Time [months]</text>
<text x="216.2" y="269.8" font-size="8.4" text-anchor="middle" fill="#222" stroke="#222" stroke-width="0.25" textLength="51" lengthAdjust="spacingAndGlyphs" transform="rotate(-90 216.2 269.8)">sCD44 [ng/ml]</text>
<line x1="443.8" y1="198.5" x2="443.8" y2="304.7" stroke="#1a1a1a" stroke-width="1.3"/>
<line x1="441.4" y1="304.5" x2="446.7" y2="304.5" stroke="#1a1a1a" stroke-width="1.1"/>
<line x1="443.8" y1="311.4" x2="443.8" y2="338" stroke="#1a1a1a" stroke-width="1.3"/>
<line x1="441.4" y1="311.5" x2="446.7" y2="311.5" stroke="#1a1a1a" stroke-width="1.1"/>
<line x1="443.8" y1="199.5" x2="446.1" y2="199.5" stroke="#1a1a1a" stroke-width="1"/>
<text x="448.5" y="203.5" font-size="6.3" text-anchor="start" fill="#2a2a2a" stroke="#2a2a2a" stroke-width="0.25" textLength="13" lengthAdjust="spacingAndGlyphs">4000</text>
<line x1="443.8" y1="226.5" x2="446.1" y2="226.5" stroke="#1a1a1a" stroke-width="1"/>
<text x="448.5" y="228.5" font-size="6.3" text-anchor="start" fill="#2a2a2a" stroke="#2a2a2a" stroke-width="0.25" textLength="13" lengthAdjust="spacingAndGlyphs">3000</text>
<line x1="443.8" y1="253.5" x2="446.1" y2="253.5" stroke="#1a1a1a" stroke-width="1"/>
<text x="448.5" y="255.5" font-size="6.3" text-anchor="start" fill="#2a2a2a" stroke="#2a2a2a" stroke-width="0.25" textLength="13" lengthAdjust="spacingAndGlyphs">2000</text>
<line x1="443.8" y1="280.5" x2="446.1" y2="280.5" stroke="#1a1a1a" stroke-width="1"/>
<text x="448.5" y="282.7" font-size="6.3" text-anchor="start" fill="#2a2a2a" stroke="#2a2a2a" stroke-width="0.25" textLength="13" lengthAdjust="spacingAndGlyphs">1000</text>
<line x1="443.8" y1="311.5" x2="446.1" y2="311.5" stroke="#1a1a1a" stroke-width="1"/>
<text x="448.5" y="313.6" font-size="6.3" text-anchor="start" fill="#2a2a2a" stroke="#2a2a2a" stroke-width="0.25" textLength="9.75" lengthAdjust="spacingAndGlyphs">100</text>
<line x1="443.8" y1="324.5" x2="446.1" y2="324.5" stroke="#1a1a1a" stroke-width="1"/>
<text x="448.5" y="326.5" font-size="6.3" text-anchor="start" fill="#2a2a2a" stroke="#2a2a2a" stroke-width="0.25" textLength="6.5" lengthAdjust="spacingAndGlyphs">50</text>
<line x1="443.8" y1="337.5" x2="446.1" y2="337.5" stroke="#1a1a1a" stroke-width="1"/>
<text x="448.5" y="339.6" font-size="6.3" text-anchor="start" fill="#2a2a2a" stroke="#2a2a2a" stroke-width="0.25" textLength="3.25" lengthAdjust="spacingAndGlyphs">0</text>
<text x="475" y="270.5" font-size="8.4" text-anchor="middle" fill="#222" stroke="#222" stroke-width="0.25" textLength="59" lengthAdjust="spacingAndGlyphs" transform="rotate(-90 475 270.5)">Tryptase [ng/ml]</text>
<polyline points="237,318.5 237.6,326.5 238.7,325.2 240,326.1 242,325.2 243,320.5 244.7,322.5 245.8,323.8 246.7,318.5 247.8,323.8 249.4,324.8 252.1,324.8 254.5,326.9 256.8,323.2 258.8,320.5 259.7,315.8 260.4,317.8 261.8,329.2 263.1,325.8 264.8,327.2 266.9,321.4 268.9,323.2 272.2,321.1 274.6,323.4 277.6,315.8 279.9,320.9 281.9,317.1 283.1,310.8" fill="none" stroke="#1f3f7f" stroke-width="1.5" stroke-linejoin="round"/>
<polyline points="283.9,305.3 285.4,294.8 287.6,293" fill="none" stroke="#1f3f7f" stroke-width="1.5" stroke-linejoin="round"/>
<polyline points="294.1,289.6 302.8,284.6 311.6,272.2 320,276.2 323.75,277 326.25,276.25 328.75,277.5 331.25,277 333,266.25 335,265 351.25,258.75 357,303.75 358.75,302.5 360.5,303 373.75,295 386.5,257.1 392.4,281.3 394.8,283 396.8,283 400.9,271.6 402.2,271.2 404.9,271.9 409.3,262.5 409.9,258.5 411,241.7 415.3,231 416.2,245 417,252.4 419,271.9 420.4,275.3 425.5,284.7 427.1,285.4 433.2,257.8 436.3,250 441.9,239.7" fill="none" stroke="#1f3f7f" stroke-width="1.5" stroke-linejoin="round"/>
<polyline points="236.9,230 242.5,281.75 253,254.25 287.4,251.4" fill="none" stroke="#b0123b" stroke-width="1.75" stroke-linejoin="round"/>
<polyline points="294.1,250.7 311.3,249.65 327,261.2 351.25,243.25 386.5,208.3 392.4,238.6 394.1,256.8 410.7,222.9 421.7,286.5" fill="none" stroke="#b0123b" stroke-width="1.75" stroke-linejoin="round"/>
<circle cx="236.9" cy="230" r="2.15" fill="#b0123b"/>
<circle cx="242.5" cy="281.75" r="2.15" fill="#b0123b"/>
<circle cx="253" cy="254.25" r="2.15" fill="#b0123b"/>
<circle cx="311.3" cy="249.65" r="2.15" fill="#b0123b"/>
<circle cx="327" cy="261.2" r="2.15" fill="#b0123b"/>
<circle cx="351.25" cy="243.25" r="2.15" fill="#b0123b"/>
<circle cx="386.5" cy="208.3" r="2.15" fill="#b0123b"/>
<circle cx="392.4" cy="238.6" r="2.15" fill="#b0123b"/>
<circle cx="394.1" cy="256.8" r="2.15" fill="#b0123b"/>
<circle cx="410.7" cy="222.9" r="2.15" fill="#b0123b"/>
<circle cx="421.7" cy="286.5" r="2.15" fill="#b0123b"/>
<polygon points="231.8,195.2 241.8,195.2 236.8,203.8" fill="#d0128c"/>
<polygon points="234.2,197 236.2,197 236.2,201.2" fill="#fff"/>
<polygon points="381.5,195.2 391.5,195.2 386.5,203.8" fill="#d0128c"/>
<polygon points="383.9,197 385.9,197 385.9,201.2" fill="#fff"/>
<polygon points="438.4,195.2 448.4,195.2 443.4,203.8" fill="#d0128c"/>
<polygon points="440.8,197 442.8,197 442.8,201.2" fill="#fff"/>
<polygon points="309.6,197 316.2,197 312.9,201.4" fill="#e0902a"/>
<polygon points="326.3,197 332.9,197 329.6,201.4" fill="#e0902a"/>
<polygon points="363,197 369.6,197 366.3,201.4" fill="#e0902a"/>
<polygon points="412,197 418.8,197 415.4,202.4" fill="#a3112e"/>
<text x="220.4" y="182.9" font-size="6.5" text-anchor="start" fill="#d0128c" stroke="#d0128c" textLength="12.2" lengthAdjust="spacingAndGlyphs" transform="rotate(45 220.4 182.9)" stroke-width="0.12">ASM</text>
<text x="370.4" y="182.7" font-size="6.5" text-anchor="start" fill="#d0128c" stroke="#d0128c" textLength="11.8" lengthAdjust="spacingAndGlyphs" transform="rotate(45 370.4 182.7)" stroke-width="0.12">MCL</text>
<text x="383.2" y="176.5" font-size="6.5" text-anchor="start" fill="#6c4f8f" stroke="#6c4f8f" textLength="21.6" lengthAdjust="spacingAndGlyphs" transform="rotate(45 383.2 176.5)" stroke-width="0.12">Imatinib</text>
<text x="410.9" y="187.7" font-size="6.5" text-anchor="start" fill="#a3112e" stroke="#a3112e" textLength="7" lengthAdjust="spacingAndGlyphs" transform="rotate(45 410.9 187.7)" stroke-width="0.12">CT</text>
<text x="430.2" y="180.6" font-size="6.5" text-anchor="start" fill="#d0128c" stroke="#d0128c" textLength="15" lengthAdjust="spacingAndGlyphs" transform="rotate(45 430.2 180.6)" stroke-width="0.12">Death</text>
<text x="255.7" y="188.1" font-size="6.5" text-anchor="start" fill="#78b855" stroke="#78b855" textLength="34.9" lengthAdjust="spacingAndGlyphs" stroke-width="0.1">Prednisolone</text>
<text x="266.2" y="195.1" font-size="6.5" text-anchor="start" fill="#b8742c" stroke="#b8742c" textLength="14.4" lengthAdjust="spacingAndGlyphs" stroke-width="0.1">IFN-α</text>
<text x="320" y="192.6" font-size="6.5" text-anchor="start" fill="#e0902a" stroke="#e0902a" textLength="14.6" lengthAdjust="spacingAndGlyphs" stroke-width="0.1">2CdA</text>
<line x1="401" y1="319.1" x2="409.6" y2="319.1" stroke="#b0123b" stroke-width="1.6"/>
<circle cx="405.2" cy="319.1" r="2.15" fill="#b0123b"/>
<line x1="401" y1="327.8" x2="409.6" y2="327.8" stroke="#3a5a9c" stroke-width="1.6"/>
<text x="412.1" y="321" font-size="6.1" text-anchor="start" fill="#222" stroke="#222" stroke-width="0.25" textLength="16.8" lengthAdjust="spacingAndGlyphs">sCD44</text>
<text x="412.1" y="329.4" font-size="6.1" text-anchor="start" fill="#222" stroke="#222" stroke-width="0.25" textLength="22.4" lengthAdjust="spacingAndGlyphs">Tryptase</text>
<rect x="0.5" y="0.5" width="519" height="372" fill="none" stroke="#222" stroke-width="1"/>
</svg>
</body></html>
